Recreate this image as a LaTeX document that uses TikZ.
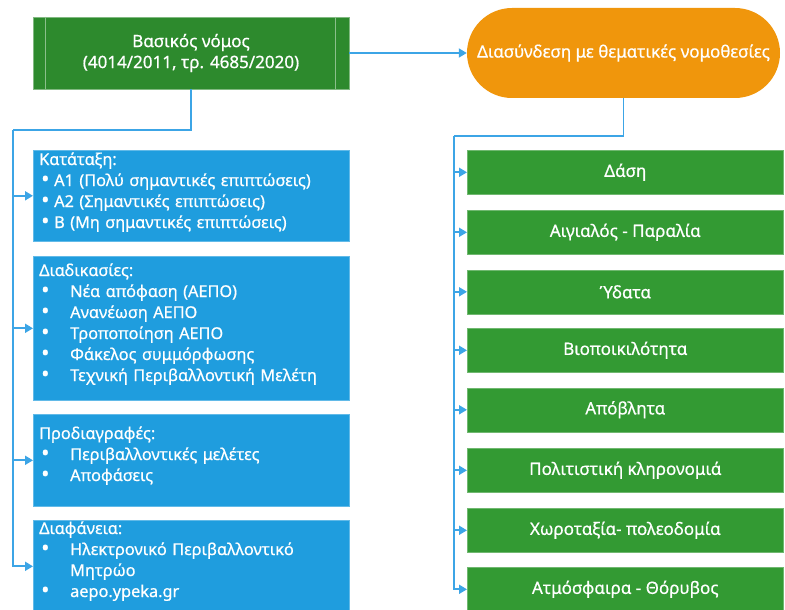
\documentclass[tikz,border=0pt]{standalone}
\usepackage{fontspec}
\setmainfont{Noto Sans}[FakeBold=0.6]
\usetikzlibrary{arrows.meta}
\definecolor{topgreen}{RGB}{45,138,45}
\definecolor{boxgreen}{RGB}{51,154,51}
\definecolor{boxblue}{RGB}{31,157,222}
\definecolor{linkblue}{RGB}{60,165,230}
\definecolor{orangefill}{RGB}{240,150,12}
\tikzset{
  conn/.style={draw=linkblue, line width=1.8pt},
  arr/.style={conn, -{Triangle[length=8pt,width=9pt]}},
  bluebox/.style={draw=boxblue!70!white, line width=0.6pt, fill=boxblue, minimum width=316pt, anchor=north west, inner sep=0pt},
  greenbox/.style={draw=boxgreen!70!white, line width=0.6pt, fill=boxgreen, minimum width=316pt, minimum height=44pt, anchor=north west, inner sep=0pt, text=white, font=\fontsize{17}{20}\selectfont},
  bluetext/.style={anchor=base west, text=white, text width=305pt, align=left, inner sep=0pt, font=\fontsize{16.3}{21}\selectfont},
}
\newcommand{\bdot}{\raisebox{-0.5pt}{\scalebox{1.35}{•}}}
\newcommand{\bulA}{\hspace*{2pt}\makebox[13pt][l]{\bdot}}
\newcommand{\bulB}{\hspace*{2pt}\makebox[29pt][l]{\bdot}}
\begin{document}
\begin{tikzpicture}[x=1pt,y=-1pt]
\useasboundingbox (0,0) rectangle (785,610);
\clip (0,0) rectangle (785,610);
% top node
\node[draw=topgreen!60!white, line width=0.6pt, fill=topgreen, minimum width=316pt, minimum height=72pt, inner sep=0pt, text=white, align=center, font=\fontsize{17}{21}\selectfont] (top) at (191,53) {Βασικός νόμος\\(4014/2011, τρ. 4685/2020)};
\draw[topgreen!55!white, line width=0.8pt] ([xshift=13pt]top.north west) -- ([xshift=13pt]top.south west);
\draw[topgreen!55!white, line width=0.8pt] ([xshift=-14pt]top.north east) -- ([xshift=-14pt]top.south east);
% orange
\node[fill=orangefill, rounded corners=45pt, minimum width=313pt, minimum height=90pt, inner sep=0pt, text=white, font=\fontsize{17}{20}\selectfont] (link) at (623.5,53) {Διασύνδεση με θεματικές νομοθεσίες};
\draw[arr] (top.east) -- (link.west);
% left boxes
\node[bluebox, minimum height=91pt] (kat) at (33,150) {};
\node[bluebox, minimum height=144pt] (diad) at (33,256) {};
\node[bluebox, minimum height=92pt] (prod) at (33,414) {};
\node[bluebox, minimum height=92pt] (diaf) at (33,520) {};
\node[bluetext] (katT) at (39,165) {Κατάταξη:\\\bulA A1 (Πολύ σημαντικές επιπτώσεις)\\\bulA A2 (Σημαντικές επιπτώσεις)\\\bulA B (Μη σημαντικές επιπτώσεις)};
\node[bluetext] (diadT) at (39,276) {Διαδικασίες:\\\bulB Νέα απόφαση (ΑΕΠΟ)\\\bulB Ανανέωση ΑΕΠΟ\\\bulB Τροποποίηση ΑΕΠΟ\\\bulB Φάκελος συμμόρφωσης\\\bulB Τεχνική Περιβαλλοντική Μελέτη};
\node[bluetext] (prodT) at (39,439) {Προδιαγραφές:\\\bulB Περιβαλλοντικές μελέτες\\\bulB Αποφάσεις};
\node[bluetext] (diafT) at (39,534) {Διαφάνεια:\\\bulB Ηλεκτρονικό Περιβαλλοντικό\\\hspace*{31pt}Μητρώο\\\bulB aepo.ypeka.gr};
\coordinate (Lt) at (13,130);
\draw[conn] (top.south) |- (Lt);
\draw[arr] (Lt) |- (kat.west);
\draw[arr] (Lt) |- (diad.west);
\draw[arr] (Lt) |- (prod.west);
\draw[arr] (Lt) |- (diaf.west);
% right boxes
\node[greenbox] (r1) at (467,150) {Δάση};
\node[greenbox] (r2) at (467,210) {Αιγιαλός - Παραλία};
\node[greenbox] (r3) at (467,269.5) {Ύδατα};
\node[greenbox] (r4) at (467,328) {Βιοποικιλότητα};
\node[greenbox] (r5) at (467,387.5) {Απόβλητα};
\node[greenbox] (r6) at (467,448) {Πολιτιστική κληρονομιά};
\node[greenbox] (r7) at (467,508) {Χωροταξία- πολεοδομία};
\node[greenbox] (r8) at (467,567) {Ατμόσφαιρα - Θόρυβος};
\coordinate (Rt) at (454,136);
\draw[conn] (link.south) |- (Rt);
\foreach \n in {r1,r2,r3,r4,r5,r6,r7,r8}{\draw[arr] (Rt) |- (\n.west);}
\end{tikzpicture}
\end{document}
